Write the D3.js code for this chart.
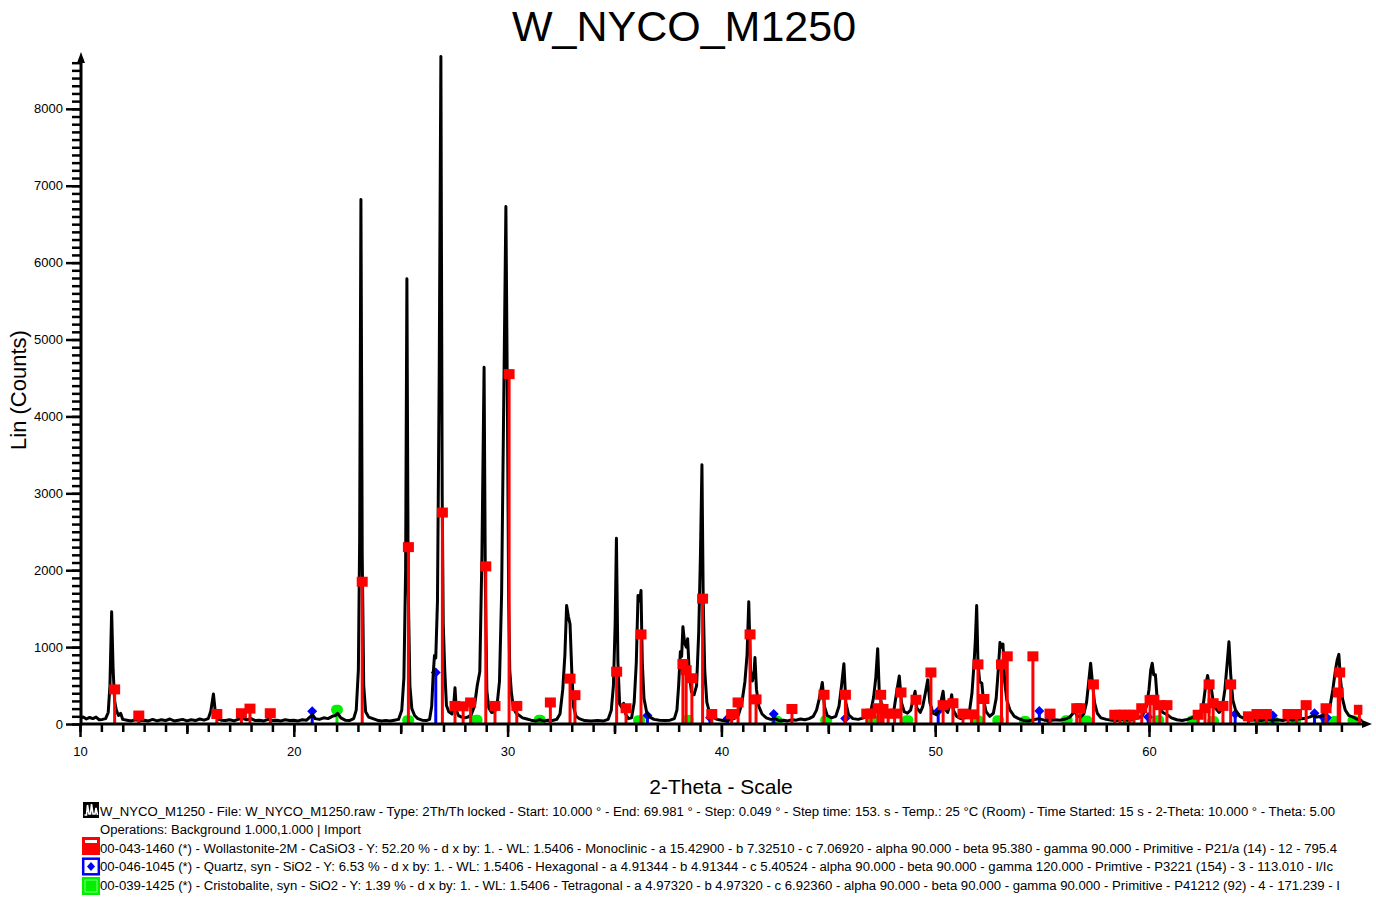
<!DOCTYPE html>
<html>
<head>
<meta charset="utf-8">
<script src="https://cdn.jsdelivr.net/npm/d3@7"></script>
<style>
  html, body { margin: 0; padding: 0; background: #fff; }
  svg { display: block; font-family: "Liberation Sans", Arial, sans-serif; }
</style>
</head>
<body>
<svg id="chart" width="1376" height="897"></svg>
<script>
// ---- Measured scan: [2-theta (deg), intensity (counts)] ----
const scan = [
 [10.00, 80],[10.15, 90],[10.30, 65],[10.45, 85],[10.60, 70],[10.75, 90],[10.90, 55],[11.05, 60],[11.20, 70],
 [11.32, 150],[11.40, 500],[11.48, 1460],[11.55, 700],[11.62, 300],[11.70, 180],[11.80, 110],[11.90, 140],[12.00, 60],
 [12.20, 50],[12.40, 40],[12.60, 55],[12.80, 45],[13.00, 50],[13.20, 40],[13.40, 60],[13.60, 40],[13.80, 55],[14.00, 45],
 [14.20, 65],[14.40, 40],[14.60, 50],[14.80, 60],[15.00, 40],[15.20, 55],[15.40, 45],[15.60, 65],[15.80, 50],[16.00, 70],
 [16.12, 170],[16.24, 390],[16.33, 150],[16.45, 60],[16.60, 50],[16.80, 45],[17.00, 55],[17.20, 40],[17.40, 60],[17.60, 75],
 [17.80, 55],[18.00, 70],[18.20, 45],[18.40, 50],[18.60, 40],[18.80, 60],[19.00, 45],[19.20, 50],[19.40, 40],[19.60, 55],
 [19.80, 45],[20.00, 50],[20.20, 40],[20.40, 55],[20.60, 50],[20.75, 90],[20.88, 120],[21.00, 70],[21.20, 60],[21.40, 80],
 [21.60, 70],[21.80, 100],[21.95, 110],[22.05, 140],[22.20, 80],[22.40, 50],[22.60, 45],[22.80, 70],
 [22.92, 180],[23.02, 700],[23.08, 2400],[23.14, 6820],[23.20, 2200],[23.27, 500],[23.36, 160],[23.50, 90],[23.70, 70],
 [23.90, 50],[24.10, 40],[24.30, 45],[24.50, 40],[24.70, 50],[24.90, 60],[25.05, 180],[25.15, 600],[25.23, 2000],[25.29, 5790],
 [25.35, 1800],[25.43, 500],[25.52, 200],[25.65, 110],[25.80, 70],[26.00, 50],[26.20, 45],[26.35, 60],[26.45, 230],[26.52, 650],
 [26.58, 890],[26.64, 860],[26.72, 1600],[26.80, 4500],[26.88, 8680],[26.94, 3000],[26.99, 1300],[27.06, 700],[27.14, 240],
 [27.25, 160],[27.40, 130],[27.48, 250],[27.54, 470],[27.60, 180],[27.70, 110],[27.85, 90],[28.00, 80],[28.15, 90],[28.30, 120],
 [28.45, 230],[28.58, 500],[28.70, 680],[28.80, 2200],[28.90, 4640],[28.96, 1800],[29.03, 430],[29.12, 210],[29.25, 150],
 [29.40, 160],[29.52, 280],[29.62, 550],[29.72, 1700],[29.82, 4200],[29.92, 6730],[29.99, 4200],[30.05, 1600],[30.10, 700],
 [30.18, 400],[30.28, 200],[30.40, 140],[30.55, 110],[30.70, 80],[30.90, 65],[31.10, 50],[31.30, 40],[31.50, 55],[31.70, 40],
 [31.90, 50],[32.10, 45],[32.30, 60],[32.45, 130],[32.58, 450],[32.68, 900],[32.76, 1540],[32.84, 1400],[32.92, 1300],[33.00, 700],
 [33.08, 230],[33.20, 100],[33.35, 70],[33.60, 45],[33.90, 40],[34.20, 45],[34.50, 40],[34.70, 60],[34.85, 180],[34.95, 500],
 [35.03, 1300],[35.09, 2415],[35.16, 800],[35.24, 260],[35.33, 220],[35.43, 270],[35.52, 130],[35.65, 70],[35.80, 80],
 [35.92, 280],[36.02, 800],[36.10, 1670],[36.18, 1600],[36.24, 1735],[36.30, 800],[36.38, 330],[36.50, 160],[36.65, 90],
 [36.85, 60],[37.10, 50],[37.35, 45],[37.60, 50],[37.80, 70],[37.92, 180],[38.00, 500],[38.08, 940],[38.14, 880],[38.20, 1265],
 [38.28, 1050],[38.36, 1000],[38.42, 1110],[38.50, 650],[38.60, 420],[38.72, 380],[38.84, 500],[38.94, 1200],[39.02, 2200],
 [39.09, 3370],[39.15, 1600],[39.22, 700],[39.32, 280],[39.45, 140],[39.60, 90],[39.80, 60],[40.00, 50],[40.20, 40],[40.40, 60],
 [40.60, 70],[40.80, 120],[40.95, 260],[41.10, 550],[41.20, 900],[41.28, 1590],[41.36, 700],[41.45, 560],[41.52, 650],[41.57, 865],
 [41.64, 450],[41.75, 230],[41.90, 130],[42.10, 80],[42.30, 60],[42.50, 70],[42.70, 45],[42.90, 50],[43.10, 40],[43.30, 55],
 [43.50, 50],[43.70, 65],[43.90, 55],[44.10, 70],[44.30, 100],[44.45, 180],[44.58, 330],[44.72, 540],[44.82, 230],[44.95, 110],
 [45.15, 80],[45.35, 100],[45.50, 230],[45.62, 500],[45.73, 785],[45.82, 280],[45.95, 120],[46.15, 70],[46.40, 60],
 [46.65, 80],[46.85, 130],[47.00, 180],[47.12, 350],[47.22, 600],[47.31, 980],[47.38, 450],[47.50, 230],[47.65, 180],
 [47.80, 140],[47.95, 130],[48.08, 200],[48.20, 420],[48.32, 625],[48.42, 280],[48.55, 160],[48.70, 140],[48.85, 180],
 [48.97, 320],[49.06, 425],[49.14, 210],[49.30, 150],[49.42, 230],[49.55, 420],[49.65, 575],[49.75, 280],[49.90, 140],
 [50.05, 120],[50.20, 200],[50.30, 330],[50.37, 425],[50.45, 200],[50.58, 150],[50.70, 260],[50.77, 380],[50.85, 180],
 [51.00, 100],[51.20, 70],[51.40, 80],[51.60, 160],[51.72, 400],[51.82, 800],[51.88, 1100],[51.94, 1540],[52.00, 800],
 [52.08, 550],[52.18, 530],[52.25, 330],[52.38, 160],[52.55, 100],[52.72, 140],[52.85, 330],[52.95, 700],[53.03, 1060],
 [53.10, 1000],[53.17, 1040],[53.25, 550],[53.35, 310],[53.50, 180],[53.70, 100],[53.90, 70],[54.10, 50],[54.35, 40],
 [54.60, 55],[54.85, 70],[55.10, 50],[55.35, 45],[55.60, 55],[55.85, 50],[56.10, 65],[56.30, 90],[56.45, 140],[56.52, 190],
 [56.62, 110],[56.80, 90],[56.95, 130],[57.08, 280],[57.18, 550],[57.27, 790],[57.35, 550],[57.45, 280],[57.58, 140],
 [57.75, 80],[58.00, 60],[58.25, 50],[58.50, 45],[58.75, 60],[59.00, 50],[59.25, 65],[59.50, 80],[59.70, 110],[59.88, 230],
 [60.00, 450],[60.08, 700],[60.15, 790],[60.22, 640],[60.30, 640],[60.38, 330],[60.50, 200],[60.65, 150],[60.85, 120],
 [61.05, 80],[61.30, 55],[61.55, 45],[61.80, 60],[62.00, 80],[62.20, 110],[62.40, 150],[62.55, 280],[62.65, 500],[62.74, 630],
 [62.82, 500],[62.90, 490],[63.00, 300],[63.12, 200],[63.28, 150],[63.42, 200],[63.55, 450],[63.66, 800],[63.74, 1070],
 [63.82, 650],[63.92, 310],[64.05, 180],[64.25, 100],[64.50, 65],[64.75, 50],[65.00, 55],[65.25, 45],[65.50, 60],[65.75, 50],
 [66.00, 55],[66.25, 45],[66.50, 60],[66.75, 50],[67.00, 65],[67.25, 70],[67.50, 90],[67.70, 110],[67.85, 90],[68.05, 100],
 [68.25, 120],[68.45, 200],[68.60, 450],[68.72, 700],[68.80, 830],[68.88, 905],[68.95, 600],[69.05, 330],[69.18, 180],
 [69.35, 110],[69.55, 90],[69.75, 60],[69.98, 45]
];

// ---- Reference patterns (stick positions in 2-theta, heights in counts) ----
const wollastoniteAngles = [11.62, 12.75, 16.4, 17.55, 17.95, 18.9, 23.2, 25.36, 26.95, 27.54, 27.92, 28.27, 28.98, 29.41,
  30.07, 30.43, 32.0, 32.92, 33.15, 35.1, 35.54, 36.24, 38.2, 38.35, 38.62, 39.12, 39.55, 40.48, 40.78, 41.34, 41.62,
  43.3, 44.8, 45.8, 46.8, 47.0, 47.33, 47.45, 47.56, 47.8, 48.1, 48.4, 49.1, 49.8, 50.37, 50.83, 51.3, 51.7, 52.0, 52.28,
  53.1, 53.37, 54.57, 55.37, 56.62, 56.77, 57.4, 58.4, 58.64, 58.85, 59.1, 59.3, 59.66, 60.05, 60.23, 60.51, 60.84,
  62.3, 62.62, 62.81, 63.0, 63.46, 63.82, 64.65, 65.05, 65.49, 66.5, 66.9, 67.35, 68.28, 68.85, 68.92, 69.84];
const wollastoniteCounts = [450, 110, 130, 140, 200, 140, 1850, 2300, 2750, 235, 230, 280, 2050, 235,
  4550, 235, 280, 590, 375, 680, 205, 1165, 780, 700, 595, 1630, 130, 130, 280, 1165, 320,
  195, 380, 380, 135, 135, 205, 380, 195, 135, 135, 410, 315, 670, 245, 270, 135, 125, 775, 325,
  775, 880, 880, 135, 205, 205, 515, 120, 120, 120, 120, 120, 205, 310, 315, 245, 245,
  120, 205, 515, 270, 235, 515, 100, 130, 130, 130, 130, 245, 205, 410, 670, 185];

const quartzAngles = [20.86, 26.64, 36.54, 39.47, 40.29, 42.45, 45.79, 50.14, 54.87, 55.33, 59.96, 64.03, 65.79, 67.74, 68.14, 68.32];
const quartzCounts = [165, 670, 110, 80, 70, 130, 70, 170, 170, 60, 90, 130, 110, 140, 90, 80];

const cristobaliteAngles = [22.02, 25.35, 28.55, 31.5, 36.15, 38.42, 42.6, 44.9, 47.1, 48.7, 51.98, 52.95, 54.2, 56.15,
  57.08, 58.96, 60.43, 62.04, 63.0, 65.19, 65.81, 66.83, 68.31, 68.7, 69.56];
const cristobaliteCounts = [185, 50, 55, 55, 50, 55, 40, 50, 50, 50, 50, 50, 40, 50,
  45, 40, 50, 45, 40, 45, 40, 40, 45, 40, 45];

// ---- Axis ticks ----
const xLabelTicks = [10, 20, 30, 40, 50, 60];
const yLabelTicks = [0, 1000, 2000, 3000, 4000, 5000, 6000, 7000, 8000];

// ---- Text ----
const chartTitle = "W_NYCO_M1250";
const xTitle = "2-Theta - Scale";
const yTitle = "Lin (Counts)";
const legendLines = [
  "W_NYCO_M1250 - File: W_NYCO_M1250.raw - Type: 2Th/Th locked - Start: 10.000 ° - End: 69.981 ° - Step: 0.049 ° - Step time: 153. s - Temp.: 25 °C (Room) - Time Started: 15 s - 2-Theta: 10.000 ° - Theta: 5.00",
  "Operations: Background 1.000,1.000 | Import",
  "00-043-1460 (*) - Wollastonite-2M - CaSiO3 - Y: 52.20 % - d x by: 1. - WL: 1.5406 - Monoclinic - a 15.42900 - b 7.32510 - c 7.06920 - alpha 90.000 - beta 95.380 - gamma 90.000 - Primitive - P21/a (14) - 12 - 795.4",
  "00-046-1045 (*) - Quartz, syn - SiO2 - Y: 6.53 % - d x by: 1. - WL: 1.5406 - Hexagonal - a 4.91344 - b 4.91344 - c 5.40524 - alpha 90.000 - beta 90.000 - gamma 120.000 - Primtive - P3221 (154) - 3 - 113.010 - I/Ic",
  "00-039-1425 (*) - Cristobalite, syn - SiO2 - Y: 1.39 % - d x by: 1. - WL: 1.5406 - Tetragonal - a 4.97320 - b 4.97320 - c 6.92360 - alpha 90.000 - beta 90.000 - gamma 90.000 - Primitive - P41212 (92) - 4 - 171.239 - I"
];

// ---- Layout ----
const RED = "#ff0000", BLUE = "#0000ff", GREEN = "#00f000";
const svg = d3.select("#chart");
const x0 = 80, xEnd = 69.98;
const x = d3.scaleLinear().domain([10, 70]).range([x0, x0 + 60 * 21.38]);
const y = d3.scaleLinear().domain([0, 8700]).range([724, 55]);
const plotRight = x(xEnd);

const zip = (a, b) => a.map((v, i) => [v, b[i]]);

svg.append("defs").append("clipPath").attr("id", "plot-clip")
  .append("rect").attr("x", x0).attr("y", 40)
  .attr("width", plotRight - x0).attr("height", y(0) - 40);

// Title and axis titles
svg.append("text").attr("x", 684).attr("y", 41).attr("text-anchor", "middle")
  .attr("font-size", 43).attr("fill", "#000").text(chartTitle);
svg.append("text").attr("x", 721).attr("y", 794).attr("text-anchor", "middle")
  .attr("font-size", 21).attr("fill", "#000").text(xTitle);
svg.append("text").attr("transform", "translate(26,390) rotate(-90)").attr("text-anchor", "middle")
  .attr("font-size", 22).attr("fill", "#000").text(yTitle);

const plot = svg.append("g").attr("clip-path", "url(#plot-clip)");

// Stick markers for a reference phase
function sticks(layer, data, color, shape) {
  const g = layer.append("g");
  g.selectAll("line").data(data).join("line")
    .attr("x1", d => x(d[0])).attr("x2", d => x(d[0]))
    .attr("y1", y(0)).attr("y2", d => y(d[1]))
    .attr("stroke", color).attr("stroke-width", 3);
  if (shape === "square") {
    g.selectAll("rect").data(data).join("rect")
      .attr("x", d => x(d[0]) - 5.5).attr("y", d => y(d[1]) - 5)
      .attr("width", 11).attr("height", 10).attr("fill", color);
  } else if (shape === "diamond") {
    g.selectAll("path").data(data).join("path")
      .attr("d", d => {
        const cx = x(d[0]), cy = y(d[1]);
        return `M${cx},${cy - 5}L${cx + 5},${cy}L${cx},${cy + 5}L${cx - 5},${cy}Z`;
      })
      .attr("fill", color);
  } else {
    g.selectAll("rect").data(data).join("rect")
      .attr("x", d => x(d[0]) - 6).attr("y", d => y(d[1]) - 5)
      .attr("width", 12).attr("height", 10).attr("rx", 5).attr("ry", 5)
      .attr("fill", color);
  }
}

sticks(plot, zip(cristobaliteAngles, cristobaliteCounts), GREEN, "round");
sticks(plot, zip(quartzAngles, quartzCounts), BLUE, "diamond");

// Diffractogram
plot.append("path").datum(scan)
  .attr("d", d3.line().x(d => x(d[0])).y(d => y(d[1])))
  .attr("fill", "none").attr("stroke", "#000").attr("stroke-width", 3)
  .attr("stroke-linejoin", "round").attr("stroke-linecap", "round");

sticks(plot, zip(wollastoniteAngles, wollastoniteCounts), RED, "square");

// Axes
const axisStyle = g => {
  g.select(".domain").remove();
  g.selectAll(".tick line").attr("stroke", "#000").attr("stroke-width", 2.5);
  g.selectAll(".tick text").attr("fill", "#000").attr("font-size", 13)
    .attr("font-family", "'Liberation Sans', Arial, sans-serif");
};

svg.append("g").attr("transform", `translate(${x0 + 1},0)`)
  .call(d3.axisLeft(y).tickValues(d3.range(0, 8601, 100)).tickSize(9).tickFormat(""))
  .call(axisStyle);
svg.append("g").attr("transform", `translate(${x0 + 1},0)`)
  .call(d3.axisLeft(y).tickValues(yLabelTicks).tickSize(15).tickPadding(3).tickFormat(d3.format("d")))
  .call(axisStyle);

svg.append("g").attr("transform", `translate(0,${y(0)})`)
  .call(d3.axisBottom(x).tickValues(d3.range(10, 70, 1)).tickSize(8).tickFormat(""))
  .call(axisStyle);
svg.append("g").attr("transform", `translate(0,${y(0)})`)
  .call(d3.axisBottom(x).tickValues(d3.range(15, 70, 10)).tickSize(10).tickFormat(""))
  .call(axisStyle);
svg.append("g").attr("transform", `translate(0,${y(0)})`)
  .call(d3.axisBottom(x).tickValues(xLabelTicks).tickSize(13).tickPadding(10).tickFormat(d3.format("d")))
  .call(axisStyle);

// Axis lines with arrow heads
svg.append("line").attr("x1", x0 + 1).attr("x2", x0 + 1).attr("y1", y(0) + 1.5).attr("y2", 58)
  .attr("stroke", "#000").attr("stroke-width", 3);
svg.append("path").attr("d", `M${x0 + 1},52L${x0 + 5},63L${x0 - 3},63Z`).attr("fill", "#000");
svg.append("line").attr("x1", x0).attr("x2", 1366).attr("y1", y(0)).attr("y2", y(0))
  .attr("stroke", "#000").attr("stroke-width", 3);
svg.append("path").attr("d", `M1372,${y(0)}L1362,${y(0) - 4}L1362,${y(0) + 4}Z`).attr("fill", "#000");

// Legend
const legendBase = [816, 834, 853, 871, 890];
const legendWidth = [1235, 261, 1237, 1233, 1240];
const legend = svg.append("g");
legend.selectAll("text").data(legendLines).join("text")
  .attr("x", 100).attr("y", (d, i) => legendBase[i])
  .attr("font-size", 12).attr("fill", "#000")
  .attr("textLength", (d, i) => legendWidth[i]).attr("lengthAdjust", "spacingAndGlyphs")
  .text(d => d);

// scan icon
legend.append("rect").attr("x", 83).attr("y", 802).attr("width", 16).attr("height", 16).attr("fill", "#000");
legend.append("polyline")
  .attr("points", "84.5,815 86.5,815 87.5,805 89,814 90.5,814 91.5,804 93,814 95,814 96,808 97.5,815")
  .attr("fill", "none").attr("stroke", "#fff").attr("stroke-width", 1.6);
// wollastonite icon
legend.append("rect").attr("x", 82).attr("y", 837).attr("width", 18).attr("height", 18).attr("fill", RED);
legend.append("rect").attr("x", 85).attr("y", 840).attr("width", 12).attr("height", 3).attr("fill", "#fff");
// quartz icon
legend.append("rect").attr("x", 83.2).attr("y", 858.7).attr("width", 15.6).attr("height", 15.6)
  .attr("fill", "#fff").attr("stroke", BLUE).attr("stroke-width", 2.5);
legend.append("path").attr("d", "M91,862L95,866.5L91,871L87,866.5Z").attr("fill", BLUE);
// cristobalite icon
legend.append("rect").attr("x", 82).attr("y", 877).attr("width", 18).attr("height", 18).attr("fill", GREEN);
legend.append("rect").attr("x", 85).attr("y", 880).attr("width", 12).attr("height", 12)
  .attr("fill", "none").attr("stroke", "#9f9").attr("stroke-width", 0.8);
</script>
</body>
</html>
